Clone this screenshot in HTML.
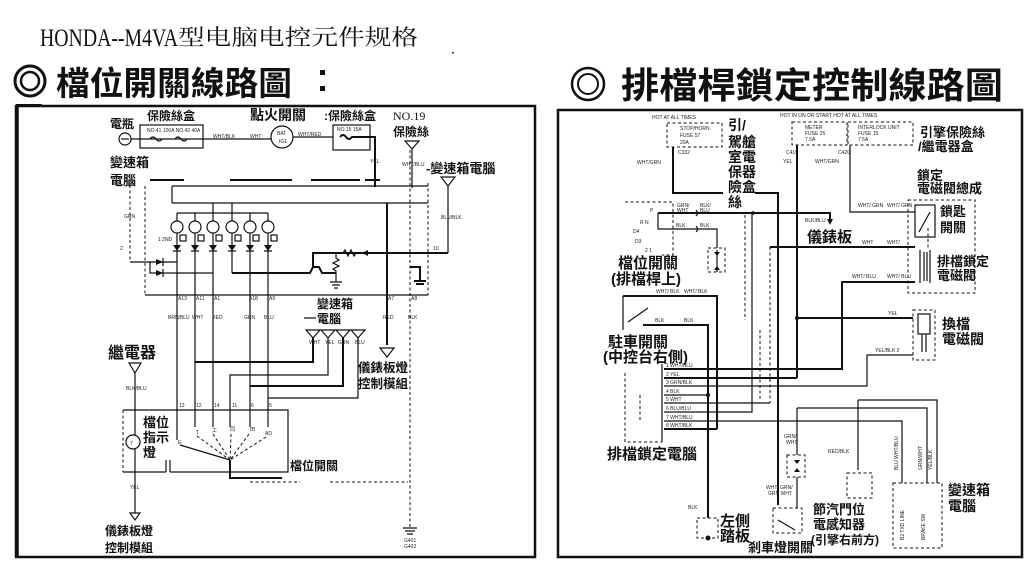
<!DOCTYPE html>
<html><head><meta charset="utf-8">
<style>
html,body{margin:0;padding:0;background:#fff;}
svg{display:block;}
.b{font-family:"Liberation Sans","Noto Sans CJK TC",sans-serif;font-weight:bold;fill:#111;}
.s{font-family:"Liberation Sans",sans-serif;fill:#222;font-size:5px;}
.l{stroke:#111;stroke-width:1.2;fill:none;}
.k{stroke:#111;stroke-width:2;fill:none;}
.d{stroke:#111;stroke-width:1;fill:none;stroke-dasharray:3,2.5;}
</style></head>
<body>
<svg width="1024" height="562" viewBox="0 0 1024 562" xmlns="http://www.w3.org/2000/svg">
<rect width="1024" height="562" fill="#fff"/>

<!-- header -->
<text x="40" y="46" font-family="'Liberation Serif',serif" font-size="25" textLength="138" lengthAdjust="spacingAndGlyphs" fill="#111">HONDA--M4VA</text>
<text x="178" y="45" font-family="'Liberation Serif','Noto Serif CJK SC',serif" font-size="22" textLength="240" lengthAdjust="spacingAndGlyphs" fill="#111">型电脑电控元件规格</text>
<rect x="452" y="52" width="2" height="1.5" fill="#333"/>

<!-- left title -->
<circle cx="30" cy="81" r="15" fill="none" stroke="#111" stroke-width="3"/>
<circle cx="30" cy="81" r="9" fill="none" stroke="#111" stroke-width="2.5"/>
<text x="56" y="95" class="b" font-size="33" textLength="236" lengthAdjust="spacingAndGlyphs">檔位開關線路圖</text>
<rect x="320" y="70" width="5" height="5" fill="#111"/>
<rect x="320" y="86" width="5" height="5" fill="#111"/>

<!-- right title -->
<circle cx="588" cy="84" r="16" fill="none" stroke="#111" stroke-width="2.5"/>
<circle cx="588" cy="84" r="10" fill="none" stroke="#111" stroke-width="2"/>
<text x="621" y="98" class="b" font-size="36" textLength="382" lengthAdjust="spacingAndGlyphs">排檔桿鎖定控制線路圖</text>

<!-- panels -->
<rect x="16" y="106" width="519" height="451" fill="none" stroke="#111" stroke-width="2.5"/>
<line x1="17" y1="106" x2="17" y2="557" stroke="#111" stroke-width="3.5"/>
<rect x="16" y="104" width="26" height="3" fill="#111"/>
<rect x="558" y="110" width="464" height="447" fill="none" stroke="#111" stroke-width="2.5"/>

<!-- ================= LEFT PANEL ================= -->
<text x="110" y="128" class="b" font-size="12">電瓶</text>
<text x="147" y="120" class="b" font-size="12">保險絲盒</text>
<text x="250" y="120" class="b" font-size="14">點火開關</text>
<text x="324" y="120" class="b" font-size="12">:保險絲盒</text>
<text x="393" y="120" font-family="'Liberation Serif',serif" font-size="12" fill="#111">NO.19</text>
<text x="393" y="136" class="b" font-size="12">保險絲</text>
<text x="426" y="173" class="b" font-size="13">-變速箱電腦</text>
<text x="110" y="167" class="b" font-size="13">變速箱</text>
<text x="110" y="185" class="b" font-size="13">電腦</text>

<!-- battery / fuses / ignition -->
<circle cx="125" cy="139" r="6" class="l"/>
<line x1="121" y1="139" x2="129" y2="139" class="l"/>
<line x1="131" y1="139" x2="271" y2="139" class="l"/>
<rect x="140" y="125" width="63" height="23" class="l" fill="#fff"/>
<text x="147" y="132" class="s">NO.41 100A  NO.42 40A</text>
<path d="M150 139 q3 -4 6 0 q3 4 6 0 M175 139 q3 -4 6 0 q3 4 6 0" class="l"/>
<text x="213" y="138" class="s">WHT/BLK</text>
<text x="250" y="138" class="s">WHT</text>
<circle cx="282" cy="137" r="11" class="l"/>
<text x="277" y="135" class="s">BAT</text>
<text x="279" y="143" class="s">IG1</text>
<line x1="293" y1="137" x2="333" y2="137" class="l"/>
<text x="298" y="136" class="s">WHT/RED</text>
<rect x="333" y="125" width="37" height="25" class="l"/>
<text x="337" y="131" class="s">NO.15 15A</text>
<path d="M340 137 q3 -4 6 0 q3 4 6 0 L370 137 L375 137 L375 187" class="k"/>
<text x="370" y="163" class="s">YEL</text>
<polygon points="405,141 419,141 412,149" class="l"/>
<line x1="412" y1="149" x2="412" y2="188" class="l"/>
<text x="402" y="166" class="s">WHT/BLU</text>
<polygon points="441,177 455,177 448,186" class="l"/>
<line x1="448" y1="186" x2="448" y2="253" class="l"/>
<text x="441" y="219" class="s">BLU/BLK</text>

<!-- TCM box -->
<path d="M150 180 H184 M230 180 H292 M311 180 H360 M365 180 H380" class="k"/>
<line x1="172" y1="186" x2="428" y2="186" class="l"/>
<line x1="172" y1="186" x2="172" y2="203" class="l"/>
<line x1="172" y1="203" x2="428" y2="203" class="l"/>
<line x1="145" y1="186" x2="145" y2="295" class="d"/>
<line x1="145" y1="295" x2="428" y2="295" class="l"/>
<line x1="428" y1="183" x2="428" y2="295" class="d"/>
<line x1="130" y1="185" x2="130" y2="262" class="d"/>
<text x="124" y="218" class="s">GRN</text>
<text x="120" y="250" class="s">2</text>

<!-- circle bus -->
<line x1="177" y1="213" x2="268" y2="213" class="l"/>
<line x1="213" y1="203" x2="213" y2="213" class="l"/>
<line x1="232" y1="203" x2="232" y2="213" class="l"/>
<g class="l">
<circle cx="177" cy="227" r="6"/><circle cx="195" cy="227" r="6"/><circle cx="213" cy="227" r="6"/>
<circle cx="232" cy="227" r="6"/><circle cx="250" cy="227" r="6"/><circle cx="268" cy="227" r="6"/>
</g>
<line x1="177" y1="213" x2="177" y2="221" class="l"/><line x1="195" y1="213" x2="195" y2="221" class="l"/>
<line x1="213" y1="213" x2="213" y2="221" class="l"/><line x1="232" y1="213" x2="232" y2="221" class="l"/>
<line x1="250" y1="213" x2="250" y2="221" class="l"/><line x1="268" y1="213" x2="268" y2="221" class="l"/>
<text x="158" y="241" class="s">1 2ND</text>
<g class="l">
<rect x="180" y="235" width="6" height="6"/><rect x="198" y="235" width="6" height="6"/><rect x="216" y="235" width="6" height="6"/>
<rect x="235" y="235" width="6" height="6"/><rect x="253" y="235" width="6" height="6"/><rect x="271" y="235" width="6" height="6"/>
</g>
<!-- diodes -->
<g fill="#111">
<polygon points="173,245 181,245 177,251"/><polygon points="191,245 199,245 195,251"/><polygon points="209,245 217,245 213,251"/>
<polygon points="228,245 236,245 232,251"/><polygon points="246,245 254,245 250,251"/><polygon points="264,245 272,245 268,251"/>
<polygon points="156,259 156,265 163,262"/><polygon points="156,270 156,276 163,273"/>
</g>
<path d="M173 251 h8 M191 251 h8 M209 251 h8 M228 251 h8 M246 251 h8 M264 251 h8 M163 258 v8 M163 269 v8" class="l"/>
<line x1="177" y1="233" x2="177" y2="440" class="l"/>
<line x1="195" y1="233" x2="195" y2="427" class="l"/>
<line x1="213" y1="233" x2="213" y2="427" class="l"/>
<line x1="232" y1="233" x2="232" y2="273" class="l"/>
<line x1="250" y1="233" x2="250" y2="427" class="l"/>
<line x1="268" y1="233" x2="268" y2="427" class="l"/>
<line x1="130" y1="262" x2="177" y2="262" class="l"/>
<path d="M150 262 V273 H213" class="l"/>
<path d="M232 273 H310 L313 267 H319 L322 273 H336" class="k"/>
<path d="M313 267 V253 H448" class="k"/>
<path d="M336 253 V258 l3 2 l-6 3 l6 3 l-6 3 l3 2 V282" class="l"/>
<path d="M330 282 h12 M332 285 h8 M334 288 h4" class="l"/>
<path d="M343 253 l2 -3 l3 6 l3 -6 l3 6 l2 -3" class="l"/>
<polygon points="362,253 368,250 368,256" fill="#111"/>
<path d="M410 267 H420 V281 M414 281 h12 M416 284 h8" class="k"/>
<line x1="387" y1="203" x2="387" y2="345" class="k"/>
<line x1="410" y1="150" x2="410" y2="528" class="d"/>
<text x="433" y="250" class="s">10</text>

<!-- labels under TCM -->
<text x="178" y="300" class="s">A13</text><text x="196" y="300" class="s">A11</text><text x="214" y="300" class="s">A1</text>
<text x="249" y="300" class="s">A18</text><text x="269" y="300" class="s">A9</text><text x="388" y="300" class="s">A7</text><text x="411" y="300" class="s">A8</text>
<text x="168" y="319" class="s">BRN/BLU</text><text x="192" y="319" class="s">WHT</text><text x="212" y="319" class="s">RED</text>
<text x="244" y="319" class="s">GRN</text><text x="264" y="319" class="s">BLU</text><text x="383" y="319" class="s">RED</text><text x="408" y="319" class="s">BLK</text>

<text x="317" y="308" class="b" font-size="12">變速箱</text>
<line x1="304" y1="318" x2="316" y2="318" class="l"/>
<text x="317" y="323" class="b" font-size="12">電腦</text>
<g class="l">
<polygon points="306,330 320,330 313,338"/><polygon points="321,330 335,330 328,338"/>
<polygon points="336,330 350,330 343,338"/><polygon points="351,330 365,330 358,338"/>
</g>
<text x="309" y="344" class="s">WHT</text><text x="325" y="344" class="s">YEL</text><text x="338" y="344" class="s">GRN</text><text x="355" y="344" class="s">BLU</text>
<path d="M313 338 V362 H195" class="k"/>
<path d="M328 338 V375 H230 V427" class="l"/>
<path d="M343 338 V386 H250" class="k"/>
<path d="M358 338 V398 H268" class="l"/>
<polygon points="380,348 394,348 387,357" class="l"/>
<text x="358" y="372" class="b" font-size="12.5">儀錶板燈</text>
<text x="358" y="388" class="b" font-size="12.5">控制模組</text>
<path d="M403 528 h14 M405 531 h10 M407 534 h6" class="l"/>
<text x="404" y="542" class="s">G401</text>
<text x="404" y="548" class="s">G402</text>

<!-- relay & indicator -->
<text x="108" y="358" class="b" font-size="16">繼電器</text>
<polygon points="129,363 141,363 135,373" class="l"/>
<line x1="135" y1="373" x2="135" y2="435" class="l"/>
<text x="126" y="390" class="s">BLK/BLU</text>
<circle cx="133" cy="442" r="7" class="l"/>
<text x="130" y="445" class="s">7</text>
<line x1="135" y1="449" x2="135" y2="513" class="l"/>
<text x="130" y="489" class="s">YEL</text>
<polygon points="130,513 140,513 135,520" class="l"/>
<text x="105" y="535" class="b" font-size="12">儀錶板燈</text>
<text x="105" y="552" class="b" font-size="12">控制模組</text>

<!-- shift switch box -->
<path d="M123 410 V472" class="d"/>
<path d="M123 410 H288 V472 H170 M166 472 H123" class="l"/>
<path d="M166 472 V460 M170 472 V460" class="l"/>
<text x="143" y="427" class="b" font-size="13">檔位</text>
<text x="143" y="442" class="b" font-size="13">指示</text>
<text x="143" y="457" class="b" font-size="13">燈</text>
<text x="179" y="407" class="s">13</text><text x="196" y="407" class="s">12</text><text x="214" y="407" class="s">14</text>
<text x="232" y="407" class="s">11</text><text x="251" y="407" class="s">6</text><text x="269" y="407" class="s">5</text>
<text x="178" y="444" class="s" font-size="7">E</text>
<text x="196" y="434" class="s" font-size="7">T</text>
<text x="212" y="432" class="s" font-size="7">工</text>
<text x="230" y="431" class="s" font-size="7">同</text>
<text x="250" y="431" class="s" font-size="7">田</text>
<text x="265" y="435" class="s" font-size="7">AD</text>
<line x1="180" y1="445" x2="230" y2="460" class="l"/>
<g class="d" stroke-dasharray="2,2">
<line x1="197" y1="436" x2="230" y2="460"/><line x1="213" y1="434" x2="230" y2="460"/>
<line x1="231" y1="434" x2="230" y2="460"/><line x1="249" y1="434" x2="230" y2="460"/>
<line x1="266" y1="437" x2="230" y2="460"/>
</g>
<path d="M230 460 V478 H282" class="k"/>
<path d="M250 482 H300 M330 482 H408" class="d"/>
<text x="290" y="470" class="b" font-size="12">檔位開關</text>

<!-- ================= RIGHT PANEL ================= -->
<text x="652" y="119" class="s" font-size="5.5">HOT AT ALL TIMES</text>
<rect x="667" y="123" width="55" height="24" class="d"/>
<text x="680" y="130" class="s">STOP/HORN</text>
<text x="680" y="137" class="s">FUSE 57</text>
<text x="680" y="144" class="s">20A</text>
<text x="678" y="154" class="s">C332</text>
<text x="637" y="164" class="s">WHT/GRN</text>
<text x="728" y="130" class="b" font-size="14">引/</text>
<text x="728" y="147" class="b" font-size="14">駕艙</text>
<text x="728" y="162" class="b" font-size="14">室電</text>
<text x="728" y="177" class="b" font-size="14">保器</text>
<text x="728" y="192" class="b" font-size="14">險盒</text>
<text x="728" y="207" class="b" font-size="14">絲</text>
<path d="M673 147 V193 H723 M755 193 H778 V505" class="k"/>

<!-- shift position switch -->
<path d="M625 202 H673 V255 H662" class="d"/>
<text x="650" y="212" class="s">P</text><text x="640" y="224" class="s">R N</text>
<text x="633" y="233" class="s">D4</text><text x="635" y="243" class="s">D3</text><text x="645" y="252" class="s">2 1</text>
<text x="677" y="207" class="s">GRN/</text><text x="677" y="212" class="s">WHT</text>
<text x="700" y="207" class="s">BLK/</text><text x="700" y="212" class="s">BLU</text>
<path d="M658 213 H830 V219" class="k"/>
<polygon points="827,219 833,219 830,225" fill="#111"/>
<circle cx="753" cy="213" r="1.8" fill="#111"/>
<text x="805" y="222" class="s">BLK/BLU</text>
<path d="M658 213 V229 H717 V248" class="l"/>
<text x="676" y="227" class="s">BLK</text><text x="700" y="227" class="s">BLK</text>
<path d="M696 210 q3 3 0 6 M696 226 q3 3 0 6" class="l"/>
<rect x="708" y="248" width="17" height="24" class="d"/>
<line x1="717" y1="250" x2="717" y2="272" class="l"/>
<polygon points="714,252 720,252 717,256" fill="#111"/>
<polygon points="714,270 720,270 717,266" fill="#111"/>
<text x="618" y="268" class="b" font-size="15">檔位開關</text>
<text x="611" y="284" class="b" font-size="15">(排檔桿上)</text>

<!-- park switch -->
<path d="M623 296 V330" class="l"/>
<path d="M623 296 H717 V429" class="k"/>
<text x="656" y="293" class="s">WHT/ BLK</text><text x="684" y="293" class="s">WHT/ BLK</text>
<line x1="628" y1="322" x2="648" y2="308" class="l"/>
<path d="M643 325 H708 V518" class="k"/>
<text x="655" y="322" class="s">BLK</text><text x="684" y="322" class="s">BLK</text>
<text x="608" y="347" class="b" font-size="15">駐車開關</text>
<text x="603" y="362" class="b" font-size="15">(中控台右側)</text>

<!-- ECU connector -->
<path d="M625 373 V442 H662" class="d"/>
<line x1="662" y1="364" x2="662" y2="442" class="l"/>
<g class="s" font-size="5.5">
<text x="666" y="367">1  WHT/BLU</text><text x="666" y="376">2  YEL</text><text x="666" y="384">3  GRN/BLK</text>
<text x="666" y="393">4  BLK</text><text x="666" y="401">5  WHT</text><text x="666" y="410">6  BLU/BLU</text>
<text x="666" y="419">7  WHT/BLU</text><text x="666" y="427">8  WHT/BLK</text>
</g>
<path d="M664 369 H842 V282 H915" class="k"/>
<path d="M664 378 H797" class="k"/>
<path d="M664 386 H867 V355 H913" class="l"/>
<path d="M664 395 H708" class="l"/>
<circle cx="708" cy="395" r="2" fill="#111"/>
<path d="M664 403 H770" class="l"/>
<path d="M664 412 H752 V213" class="l"/>
<path d="M664 421 H902 V483" class="l"/>
<path d="M664 429 H717" class="k"/>
<text x="607" y="459" class="b" font-size="15">排檔鎖定電腦</text>
<text x="688" y="509" class="s">BLK</text>
<rect x="697" y="518" width="21" height="20" class="d"/>
<circle cx="708" cy="538" r="2.5" fill="#111"/>
<text x="720" y="526" class="b" font-size="15">左側</text>
<text x="720" y="541" class="b" font-size="15">踏板</text>

<!-- upper right fuses -->
<text x="780" y="117" class="s" font-size="5.5">HOT IN ON OR START   HOT AT ALL TIMES</text>
<rect x="792" y="122" width="55" height="23" class="d"/>
<text x="805" y="129" class="s">METER</text><text x="805" y="135" class="s">FUSE 25</text><text x="805" y="141" class="s">7.5A</text>
<rect x="848" y="122" width="65" height="23" class="d"/>
<text x="858" y="129" class="s">INTERLOCK UNIT</text><text x="858" y="135" class="s">FUSE 15</text><text x="858" y="141" class="s">7.5A</text>
<text x="920" y="137" class="b" font-size="13">引擎保險絲</text>
<text x="918" y="151" class="b" font-size="13">/繼電器盒</text>
<text x="786" y="154" class="s">C419</text><text x="838" y="154" class="s">C420</text>
<text x="783" y="163" class="s">YEL</text><text x="815" y="163" class="s">WHT/GRN</text>
<path d="M797 145 V378" class="k"/>
<circle cx="797" cy="318" r="2" fill="#111"/>
<path d="M850 145 V212 H915" class="l"/>
<text x="858" y="207" class="s">WHT/ GRN</text><text x="887" y="207" class="s">WHT/ GRN</text>
<text x="917" y="180" class="b" font-size="13">鎖定</text>
<text x="917" y="193" class="b" font-size="13">電磁閥總成</text>
<rect x="908" y="200" width="67" height="93" class="d"/>
<rect x="915" y="205" width="20" height="32" fill="#fff" stroke="#111" stroke-width="1.2"/>
<line x1="919" y1="232" x2="930" y2="212" class="l"/>
<path d="M928 228 V250" class="d" stroke-dasharray="1.5,1.5"/>
<text x="940" y="216" class="b" font-size="13">鎖匙</text>
<text x="940" y="232" class="b" font-size="13">開關</text>
<path d="M920 250 V283 M924 252 V281 M927 252 V281 M930 250 V283" class="l"/>
<text x="937" y="266" class="b" font-size="13">排檔鎖定</text>
<text x="937" y="280" class="b" font-size="13">電磁閥</text>
<text x="807" y="242" class="b" font-size="15">儀錶板</text>
<path d="M770 247 H915" class="k"/>
<text x="862" y="244" class="s">WHT</text><text x="887" y="244" class="s">WHT/</text>
<path d="M770 247 V403" class="d"/>
<text x="852" y="278" class="s">WHT/ BLU</text><text x="887" y="278" class="s">WHT/ BLU</text>

<!-- shift solenoid -->
<path d="M797 318 H913" class="k"/>
<text x="888" y="315" class="s">YEL</text>
<rect x="913" y="310" width="22" height="50" class="d"/>
<rect x="918" y="314" width="12" height="20" fill="#fff" stroke="#111" stroke-width="1.2"/>
<path d="M922 334 V352 M926 334 V352" class="l"/>
<text x="875" y="352" class="s">YEL/BLK  2</text>
<text x="942" y="329" class="b" font-size="14">換檔</text>
<text x="942" y="344" class="b" font-size="14">電磁閥</text>

<!-- lower right -->
<path d="M858 400 H937 V483" class="l"/>
<path d="M858 400 V470" class="l"/>
<path d="M797 408 H927 V483" class="l"/>
<path d="M797 408 V455 M797 477 V508" class="l"/>
<text x="784" y="438" class="s">GRN/</text><text x="786" y="444" class="s">WHT</text>
<rect x="787" y="455" width="18" height="22" class="d"/>
<polygon points="794,460 800,460 797,464" fill="#111"/>
<polygon points="794,472 800,472 797,468" fill="#111"/>
<text x="766" y="489" class="s">WHT/ GRN/</text><text x="768" y="495" class="s">GRN WHT</text>
<rect x="773" y="508" width="29" height="25" class="d"/>
<line x1="778" y1="520" x2="795" y2="530" class="l"/>
<text x="748" y="552" class="b" font-size="13">剎車燈開關</text>
<text x="828" y="453" class="s">RED/BLK</text>
<rect x="847" y="473" width="25" height="25" class="d"/>
<text x="813" y="514" class="b" font-size="13">節汽門位</text>
<text x="813" y="529" class="b" font-size="13">電感知器</text>
<text x="811" y="544" class="b" font-size="12">(引擎右前方)</text>
<g class="s" font-size="4.5">
<text transform="translate(898,470) rotate(-90)">BLU WHT/BLU</text>
<text transform="translate(922,470) rotate(-90)">GRN/WHT</text>
<text transform="translate(932,470) rotate(-90)">YEL/BLK</text>
<text transform="translate(904,540) rotate(-90)">B2  TXD  LINE</text>
<text transform="translate(925,540) rotate(-90)">BRAKE  SW</text>
</g>
<rect x="893" y="483" width="49" height="65" class="d"/>
<text x="948" y="495" class="b" font-size="14">變速箱</text>
<text x="948" y="511" class="b" font-size="14">電腦</text>

<!-- faint dotted scan artifacts -->
<g class="d" stroke-dasharray="1,5">
<line x1="745" y1="215" x2="745" y2="320"/>
<line x1="640" y1="395" x2="640" y2="420"/>
<line x1="760" y1="330" x2="760" y2="400"/>
</g>
</svg>
</body></html>
